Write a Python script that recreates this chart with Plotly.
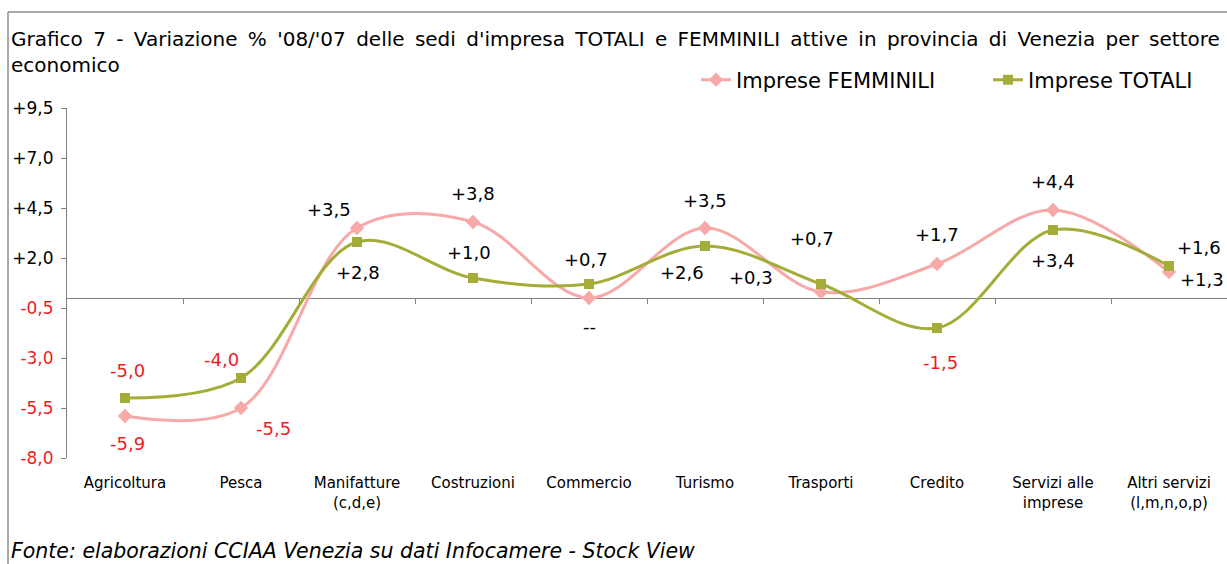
import plotly.graph_objects as go

categories = ["Agricoltura", "Pesca", "Manifatture<br>(c,d,e)", "Costruzioni", "Commercio",
              "Turismo", "Trasporti", "Credito", "Servizi alle<br>imprese", "Altri servizi<br>(l,m,n,o,p)"]
femminili = [-5.9, -5.5, 3.5, 3.8, 0.0, 3.5, 0.3, 1.7, 4.4, 1.3]
totali = [-5.0, -4.0, 2.8, 1.0, 0.7, 2.6, 0.7, -1.5, 3.4, 1.6]
fem_labels = ["-5,9", "-5,5", "+3,5", "+3,8", "--", "+3,5", "+0,3", "+1,7", "+4,4", "+1,3"]
tot_labels = ["-5,0", "-4,0", "+2,8", "+1,0", "+0,7", "+2,6", "+0,7", "-1,5", "+3,4", "+1,6"]
ytick_vals = [-8.0, -5.5, -3.0, -0.5, 2.0, 4.5, 7.0, 9.5]
ytick_text = ["-8,0", "-5,5", "-3,0", "-0,5", "+2,0", "+4,5", "+7,0", "+9,5"]

# label offsets in pixels (dx, dy) relative to the point
fem_off = [(2, 27), (32, 20), (-28, -19), (0, -29), (0, 28), (0, -28), (-70, -15), (0, -30), (0, -29), (33, 7)]
tot_off = [(2, -28), (-20, -19), (1, 30), (-4, -26), (-3, -25), (-23, 26), (-9, -46), (3, 34), (0, 30), (30, -19)]

PINK = "#F7A8A8"
GREEN = "#A3AD38"
RED = "#EE1C25"
FONT = "DejaVu Sans"

W, H = 1227, 564
L, R, T, B = 67, 0, 108, 106
PW, PH = W - L - R, H - T - B

def px_x(px):
    return (px - L) / PW

def px_y(py):
    return (H - B - py) / PH

xs = list(range(len(categories)))

fig = go.Figure()
fig.add_trace(go.Scatter(
    x=xs, y=femminili, name="Imprese FEMMINILI", mode="lines+markers",
    line=dict(color=PINK, width=3, shape="spline", smoothing=1.0),
    marker=dict(symbol="diamond", size=11, color=PINK),
    legend="legend",
))
fig.add_trace(go.Scatter(
    x=xs, y=totali, name="Imprese TOTALI", mode="lines+markers",
    line=dict(color=GREEN, width=3, shape="spline", smoothing=1.0),
    marker=dict(symbol="square", size=10, color=GREEN),
    legend="legend2",
))
# helper trace for boundary ticks axis
fig.add_trace(go.Scatter(x=[], y=[], xaxis="x2", showlegend=False, hoverinfo="skip"))

annotations = []
for vals, labs, offs in ((femminili, fem_labels, fem_off), (totali, tot_labels, tot_off)):
    for i, (v, lab, (dx, dy)) in enumerate(zip(vals, labs, offs)):
        annotations.append(dict(
            x=i, y=v, xref="x", yref="y", text=lab, showarrow=False,
            xshift=dx, yshift=-dy,
            font=dict(family=FONT, size=18, color=RED if v < 0 else "black"),
        ))

annotations.append(dict(
    xref="paper", yref="paper", x=px_x(9), y=px_y(551), xanchor="left", yanchor="middle",
    text="<i>Fonte: elaborazioni CCIAA Venezia su dati Infocamere - Stock View</i>",
    showarrow=False, font=dict(family=FONT, size=20.5, color="black"),
))

ytext = [f'<span style="color:{RED}">{t}</span>' if v < 0 else t for v, t in zip(ytick_vals, ytick_text)]

title_line1 = "Grafico 7 - Variazione % '08/'07 delle sedi d'impresa TOTALI e FEMMINILI attive in provincia di Venezia per settore"
title_line1 = title_line1.replace(" ", " \u200a\u200a")

leg_common = dict(
    orientation="h", xanchor="left", yanchor="middle",
    font=dict(family=FONT, size=21, color="black"),
    bgcolor="rgba(0,0,0,0)",
)

fig.update_layout(
    width=W, height=H,
    margin=dict(l=L, r=R, t=T, b=B, pad=0),
    paper_bgcolor="white", plot_bgcolor="white",
    font=dict(family=FONT, size=15, color="black"),
    title=dict(
        text=title_line1 + "<br>economico",
        xref="container", yref="container", x=11 / W, xanchor="left",
        y=1 - 46 / H, yanchor="top",
        font=dict(family=FONT, size=20, color="black"),
    ),
    showlegend=True,
    legend=dict(x=px_x(696), y=px_y(80), **leg_common),
    legend2=dict(x=px_x(988), y=px_y(80), **leg_common),
    xaxis=dict(
        range=[-0.5, len(categories) - 0.5], tickvals=xs, ticktext=categories,
        showline=False, ticks="", showgrid=False, zeroline=False,
        tickfont=dict(family=FONT, size=15), ticklabelstandoff=14,
    ),
    xaxis2=dict(
        overlaying="x", anchor="free", position=px_y(H - B - 8 / 17.5 * PH),
        range=[-0.5, len(categories) - 0.5],
        tickvals=[i + 0.5 for i in xs[:-1]], showticklabels=False,
        ticks="outside", ticklen=5, tickcolor="#808080", showline=False,
        showgrid=False, zeroline=False,
    ),
    yaxis=dict(
        range=[-8, 9.5], tickvals=ytick_vals, ticktext=ytext,
        showline=True, linecolor="#808080", linewidth=1,
        ticks="outside", ticklen=5, tickcolor="#808080",
        showgrid=False, zeroline=True, zerolinecolor="#808080", zerolinewidth=1,
        tickfont=dict(family=FONT, size=17), ticklabelstandoff=4,
    ),
    annotations=annotations,
    shapes=[
        dict(type="line", xref="paper", yref="paper", x0=px_x(8), x1=px_x(W), y0=px_y(12), y1=px_y(12),
             line=dict(color="#8c8c8c", width=1.5)),
        dict(type="line", xref="paper", yref="paper", x0=px_x(8), x1=px_x(8), y0=px_y(12), y1=px_y(H),
             line=dict(color="#8c8c8c", width=1.5)),
    ],
)

fig.write_html("out.html", config={"displayModeBar": False},
               post_script="document.body.style.margin='0';document.body.style.padding='0';")
